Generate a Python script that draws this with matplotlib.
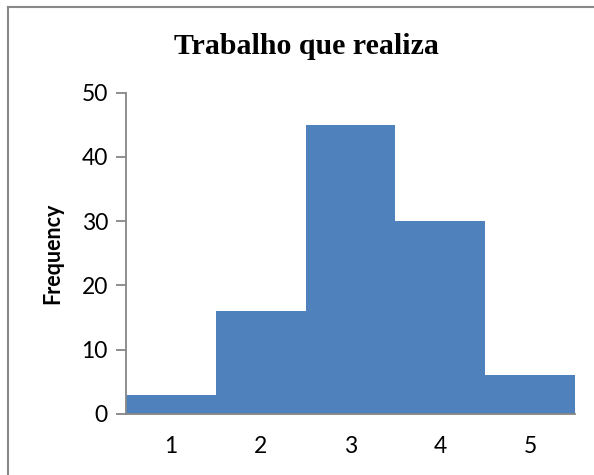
import matplotlib
matplotlib.use("Agg")
import matplotlib.pyplot as plt
from matplotlib.lines import Line2D

categories = [1, 2, 3, 4, 5]
frequencies = [3, 16, 45, 30, 6]
yticks = [0, 10, 20, 30, 40, 50]

W, H = 594, 475
fig = plt.figure(figsize=(W/100, H/100), dpi=100)
ax = fig.add_axes([126/W, 1 - 414/H, (575 - 126)/W, (414 - 92.7)/H])

ax.bar(categories, frequencies, width=1.0, color="#4F81BD", edgecolor="none")
ax.set_xlim(0.5, 5.5)
ax.set_ylim(0, 50)
ax.set_yticks(yticks)
ax.set_xticks(categories)
ax.set_xticklabels([str(c) for c in categories])

for s in ["top", "right"]:
    ax.spines[s].set_visible(False)
for s in ["left", "bottom"]:
    ax.spines[s].set_color("#868686")
    ax.spines[s].set_linewidth(1.3)

ax.tick_params(axis="y", length=7, width=1.3, color="#868686", labelsize=16.5, pad=6)
ax.tick_params(axis="x", length=0, labelsize=16.5, pad=16)
for lab in ax.get_xticklabels() + ax.get_yticklabels():
    lab.set_family(["Lato", "DejaVu Sans"])

ax.set_ylabel("Frequency", fontsize=15.5, fontweight="bold", family=["Lato", "DejaVu Sans"], labelpad=13)
fig.text(306/W, 1 - 47/H, "Trabalho que realiza", ha="center", va="center",
         fontsize=21.5, fontweight="bold", family=["Liberation Serif", "DejaVu Serif"])

# frame (only top and left edges visible in the reference)
fig.lines.append(Line2D([8/W, 8/W], [0, 1 - 7/H], transform=fig.transFigure,
                        color="#888888", linewidth=1.5))
fig.lines.append(Line2D([8/W, 1], [1 - 7/H, 1 - 7/H], transform=fig.transFigure,
                        color="#888888", linewidth=1.5))

fig.savefig("out.png", dpi=100)
